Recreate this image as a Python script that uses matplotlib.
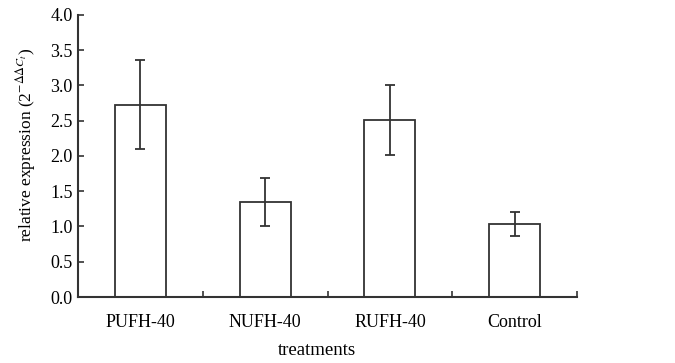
import matplotlib
matplotlib.use('Agg')
import matplotlib.pyplot as plt

plt.rcParams['font.family'] = ['Liberation Serif', 'DejaVu Serif']
plt.rcParams['mathtext.fontset'] = 'stix'

# data
treatments = ['PUFH-40', 'NUFH-40', 'RUFH-40', 'Control']
expression = [2.73, 1.35, 2.51, 1.03]
errors = [0.63, 0.34, 0.50, 0.17]

line_col = '#333333'

fig = plt.figure(figsize=(6.75, 3.63), dpi=100)
ax = fig.add_axes([0.1156, 0.1818, 0.7393, 0.777])

x = list(range(len(treatments)))
ax.bar(x, expression, width=0.41, color='white', edgecolor=line_col, linewidth=1.3,
       yerr=errors, error_kw=dict(ecolor=line_col, elinewidth=1.3, capsize=3.5, capthick=1.3))

ax.set_xlim(-0.5, len(treatments) - 0.5)
ax.set_ylim(0, 4.0)
ax.set_yticks([0.0, 0.5, 1.0, 1.5, 2.0, 2.5, 3.0, 3.5, 4.0])
ax.set_yticklabels(['%.1f' % v for v in ax.get_yticks()])

ax.set_xticks(x)
ax.set_xticklabels(treatments, fontsize=13)
ax.set_xticks([i + 0.5 for i in x], minor=True)
ax.tick_params(axis='x', which='major', length=0, pad=12)
ax.tick_params(axis='x', which='minor', direction='in', length=4, width=1.2, color=line_col)
ax.tick_params(axis='y', direction='in', length=4, width=1.2, color=line_col, labelsize=13, pad=4)

for side in ['top', 'right']:
    ax.spines[side].set_visible(False)
for side in ['left', 'bottom']:
    ax.spines[side].set_linewidth(1.5)
    ax.spines[side].set_color(line_col)

ax.set_xlabel('treatments', fontsize=13.5)
ax.xaxis.set_label_coords(0.478, -0.16)
ax.set_ylabel(r'relative expression (2$^{-\Delta\Delta C_{t}}$)', fontsize=12.5)
ax.yaxis.set_label_coords(-0.08, 0.54)

fig.savefig('out.png', dpi=100)
